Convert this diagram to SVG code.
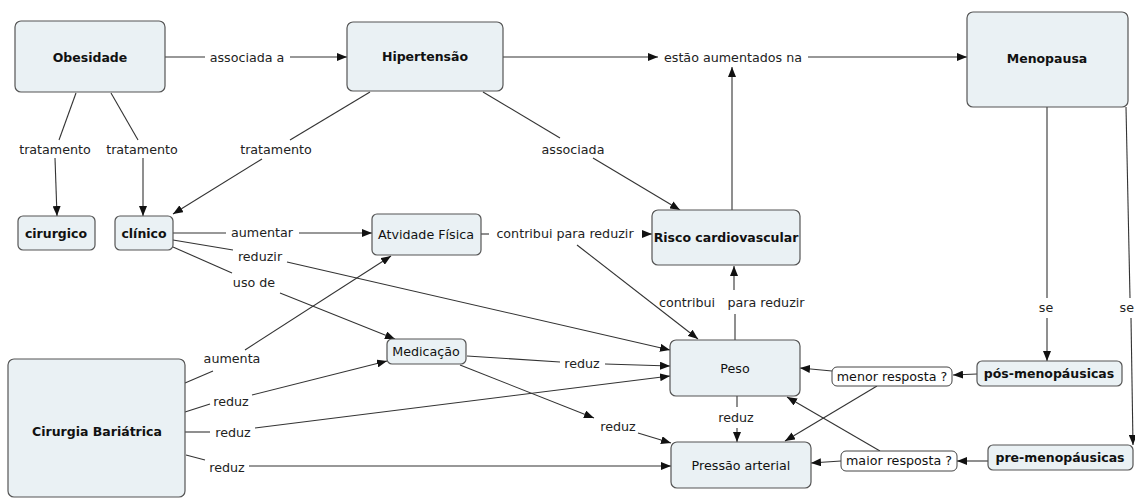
<svg xmlns="http://www.w3.org/2000/svg" width="1135" height="500" viewBox="0 0 1135 500">
<defs>
<style>
.n rect{fill:#eaf1f4;stroke:#555;stroke-width:1.2}
.w rect{fill:#fff;stroke:#444;stroke-width:1}
text{font-family:"DejaVu Sans",Verdana,sans-serif;font-size:12.7px;fill:#111;text-anchor:middle}
.b{font-weight:bold;font-size:12.5px}
.l{fill:#222}
#connectors path{fill:none;stroke:#333;stroke-width:1.1}
</style>
<marker id="a" viewBox="0 0 10 8" refX="10" refY="4" markerWidth="10" markerHeight="8" orient="auto" markerUnits="userSpaceOnUse"><path d="M0,0 L10,4 L0,8z" fill="#111"/></marker>
</defs>
<rect width="1135" height="500" fill="#fff"/>
<g id="connectors">
<path d="M165,57 L205,57"/><path d="M290,57 L347,57" marker-end="url(#a)"/>
<path d="M76,93 L59,140"/><path d="M55,158 L57,216" marker-end="url(#a)"/>
<path d="M111,93 L138,140"/><path d="M143,158 L143,216" marker-end="url(#a)"/>
<path d="M370,92 L290,140"/><path d="M262,159 L173,214" marker-end="url(#a)"/>
<path d="M483,92 L560,138"/><path d="M593,158 L680,210" marker-end="url(#a)"/>
<path d="M503,57 L658,57" marker-end="url(#a)"/><path d="M808,57 L967,57" marker-end="url(#a)"/>
<path d="M732,210 L732,67" marker-end="url(#a)"/>
<path d="M1047,107 L1047,298"/><path d="M1047,318 L1047,361" marker-end="url(#a)"/>
<path d="M1126,107 L1130,298"/><path d="M1131,318 L1133,445" marker-end="url(#a)"/>
<path d="M173,233 L226,233"/><path d="M299,233 L372,233" marker-end="url(#a)"/>
<path d="M173,240 L233,250"/><path d="M287,262 L670,350" marker-end="url(#a)"/>
<path d="M173,247 L232,273"/><path d="M280,293 L395,339" marker-end="url(#a)"/>
<path d="M481,234 L489,234"/><path d="M642,234 L652,234" marker-end="url(#a)"/>
<path d="M577,245 L698,339" marker-end="url(#a)"/>
<path d="M735,340 L735,314"/><path d="M734,290 L734,266" marker-end="url(#a)"/>
<path d="M737,396 L737,407"/><path d="M737,428 L737,442" marker-end="url(#a)"/>
<path d="M467,356 L560,362"/><path d="M605,364 L670,366" marker-end="url(#a)"/>
<path d="M460,365 L594,418" marker-end="url(#a)"/><path d="M638,433 L671,443" marker-end="url(#a)"/>
<path d="M185,383 L213,371"/><path d="M245,350 L391,256" marker-end="url(#a)"/>
<path d="M185,412 L210,404"/><path d="M252,395 L387,361" marker-end="url(#a)"/>
<path d="M185,432 L210,432"/><path d="M255,428 L670,376" marker-end="url(#a)"/>
<path d="M186,455 L205,460"/><path d="M249,466 L671,466" marker-end="url(#a)"/>
<path d="M977,374 L953,375" marker-end="url(#a)"/>
<path d="M832,371 L800,368" marker-end="url(#a)"/>
<path d="M877,386 L785,441" marker-end="url(#a)"/>
<path d="M988,461 L957,461" marker-end="url(#a)"/>
<path d="M841,461 L811,463" marker-end="url(#a)"/>
<path d="M880,451 L787,397" marker-end="url(#a)"/>
</g>
<g id="labels">
<text class="l" x="247" y="62">associada a</text>
<text class="l" x="55" y="154">tratamento</text>
<text class="l" x="142" y="154">tratamento</text>
<text class="l" x="276" y="154">tratamento</text>
<text class="l" x="573" y="154">associada</text>
<text class="l" x="733" y="62">estão aumentados na</text>
<text class="l" x="1046" y="312">se</text>
<text class="l" x="1134" y="312" style="text-anchor:end">se</text>
<text class="l" x="262" y="237">aumentar</text>
<text class="l" x="260" y="261">reduzir</text>
<text class="l" x="254" y="287">uso de</text>
<text class="l" x="232" y="363">aumenta</text>
<text class="l" x="565" y="238">contribui para reduzir</text>
<text class="l" x="687" y="307">contribui</text>
<text class="l" x="766" y="307">para reduzir</text>
<text class="l" x="736" y="422">reduz</text>
<text class="l" x="582" y="368">reduz</text>
<text class="l" x="618" y="431">reduz</text>
<text class="l" x="231" y="406">reduz</text>
<text class="l" x="233" y="437">reduz</text>
<text class="l" x="227" y="472">reduz</text>
</g>
<g id="obesidade" class="n"><rect x="15" y="21" width="150" height="71" rx="6"/><text class="b" x="90" y="62">Obesidade</text></g>
<g id="hipertensao" class="n"><rect x="347" y="22" width="156" height="69" rx="6"/><text class="b" x="425" y="61">Hipertensão</text></g>
<g id="menopausa" class="n"><rect x="967" y="12" width="161" height="95" rx="6"/><text class="b" x="1047" y="63">Menopausa</text></g>
<g id="cirurgico" class="n"><rect x="18" y="216" width="77" height="34" rx="5"/><text class="b" x="56" y="238">cirurgico</text></g>
<g id="clinico" class="n"><rect x="115" y="216" width="58" height="34" rx="5"/><text class="b" x="144" y="238">clínico</text></g>
<g id="atividade" class="n"><rect x="372" y="214" width="109" height="41" rx="5"/><text x="426" y="239">Atvidade Física</text></g>
<g id="risco" class="n"><rect x="652" y="210" width="148" height="55" rx="6"/><text class="b" x="726" y="242">Risco cardiovascular</text></g>
<g id="medicacao" class="n"><rect x="387" y="339" width="79" height="25" rx="5"/><text x="426" y="356">Medicação</text></g>
<g id="peso" class="n"><rect x="670" y="340" width="130" height="56" rx="6"/><text x="735" y="373">Peso</text></g>
<g id="pressao" class="n"><rect x="671" y="442" width="140" height="46" rx="6"/><text x="741" y="470">Pressão arterial</text></g>
<g id="cirurgia" class="n"><rect x="8" y="359" width="177" height="138" rx="6"/><text class="b" x="97" y="436">Cirurgia Bariátrica</text></g>
<g id="pos" class="n"><rect x="977" y="361" width="145" height="25" rx="5"/><text class="b" x="1049" y="378">pós-menopáusicas</text></g>
<g id="pre" class="n"><rect x="988" y="445" width="145" height="25" rx="5"/><text class="b" x="1060" y="462">pre-menopáusicas</text></g>
<g id="menor" class="w"><rect x="832" y="367" width="120" height="19" rx="5"/><text x="892" y="381">menor resposta ?</text></g>
<g id="maior" class="w"><rect x="841" y="451" width="116" height="20" rx="5"/><text x="899" y="465">maior resposta ?</text></g>
</svg>
